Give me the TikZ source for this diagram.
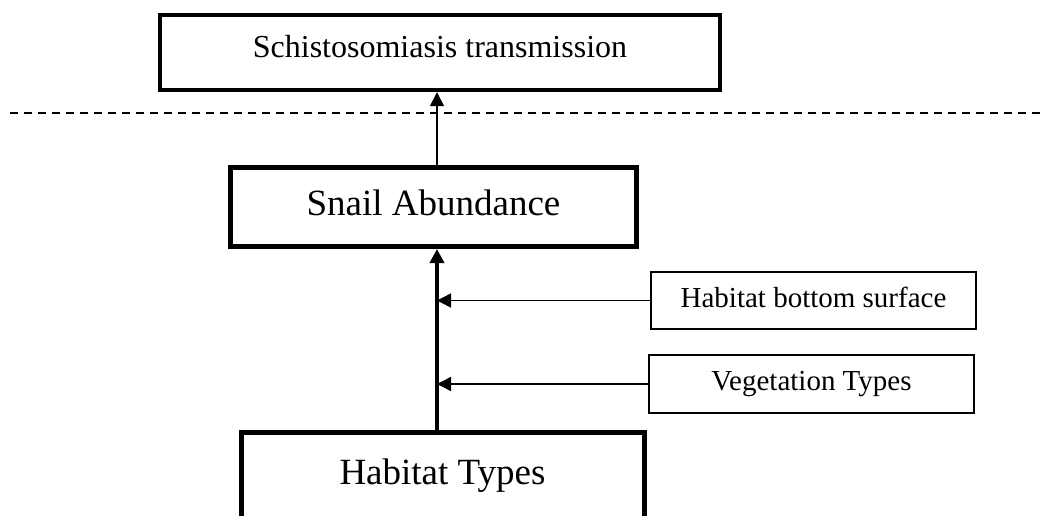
\documentclass[tikz,border=0pt]{standalone}
\usepackage{fontspec}
\setmainfont{Liberation Serif}
\usepackage{tikz}
\usetikzlibrary{arrows.meta}
\tikzstyle{topbox}=[draw, line width=2.2pt, minimum width=280pt, minimum height=37.5pt, font=\fontsize{16}{19}\selectfont, text depth=6pt]
\tikzstyle{mainbox}=[draw, line width=2.5pt, font=\fontsize{18.5}{22}\selectfont, text depth=4pt]
\tikzstyle{sidebox}=[draw, line width=1.3pt, minimum width=162.5pt, font=\fontsize{14.5}{17}\selectfont, text depth=3pt]
\tikzstyle{arrow}=[draw=black, >={Triangle[length=7pt, width=7pt]}]
\tikzstyle{dashline}=[draw=black, line width=0.75pt, dash pattern=on 4pt off 3pt]

\begin{document}
\begin{tikzpicture}[x=0.5pt, y=-0.5pt]
		   \useasboundingbox (0,0) rectangle (1040,515);
		   \begin{scope}
			   \node (trans) at (440, 52.5)[topbox] {Schistosomiasis transmission};
			   \node (snail) at (433.5, 207)[mainbox, minimum width=203pt, minimum height=39.5pt] {Snail Abundance};
			   \node (habitat) at (442.5, 476)[mainbox, minimum width=201.5pt, minimum height=44pt] {Habitat Types};
			   \node (bottom) at (813.5, 300.5)[sidebox, minimum height=28.5pt] {Habitat bottom surface};
			   \node (veget) at (811.5, 384)[sidebox, minimum height=29pt] {Vegetation Types};
			   \coordinate (spine) at (437, 0);
			   \coordinate (dashL) at (10, 113);
			   \coordinate (dashR) at (1040, 113);
		   \end{scope}
		   \begin{scope}
			   \path [dashline] (dashL) -- (dashR);
			   \path [->, arrow, line width=0.75pt] (snail.north -| spine) -- (trans.south -| spine);
			   \path [->, arrow, line width=1.75pt] (habitat.north -| spine) -- (snail.south -| spine);
			   \path [->, arrow, line width=0.75pt] (bottom.west) -- (bottom.west -| spine);
			   \path [->, arrow, line width=0.75pt] (veget.west) -- (veget.west -| spine);
		   \end{scope}
	   \end{tikzpicture}
\end{document}
